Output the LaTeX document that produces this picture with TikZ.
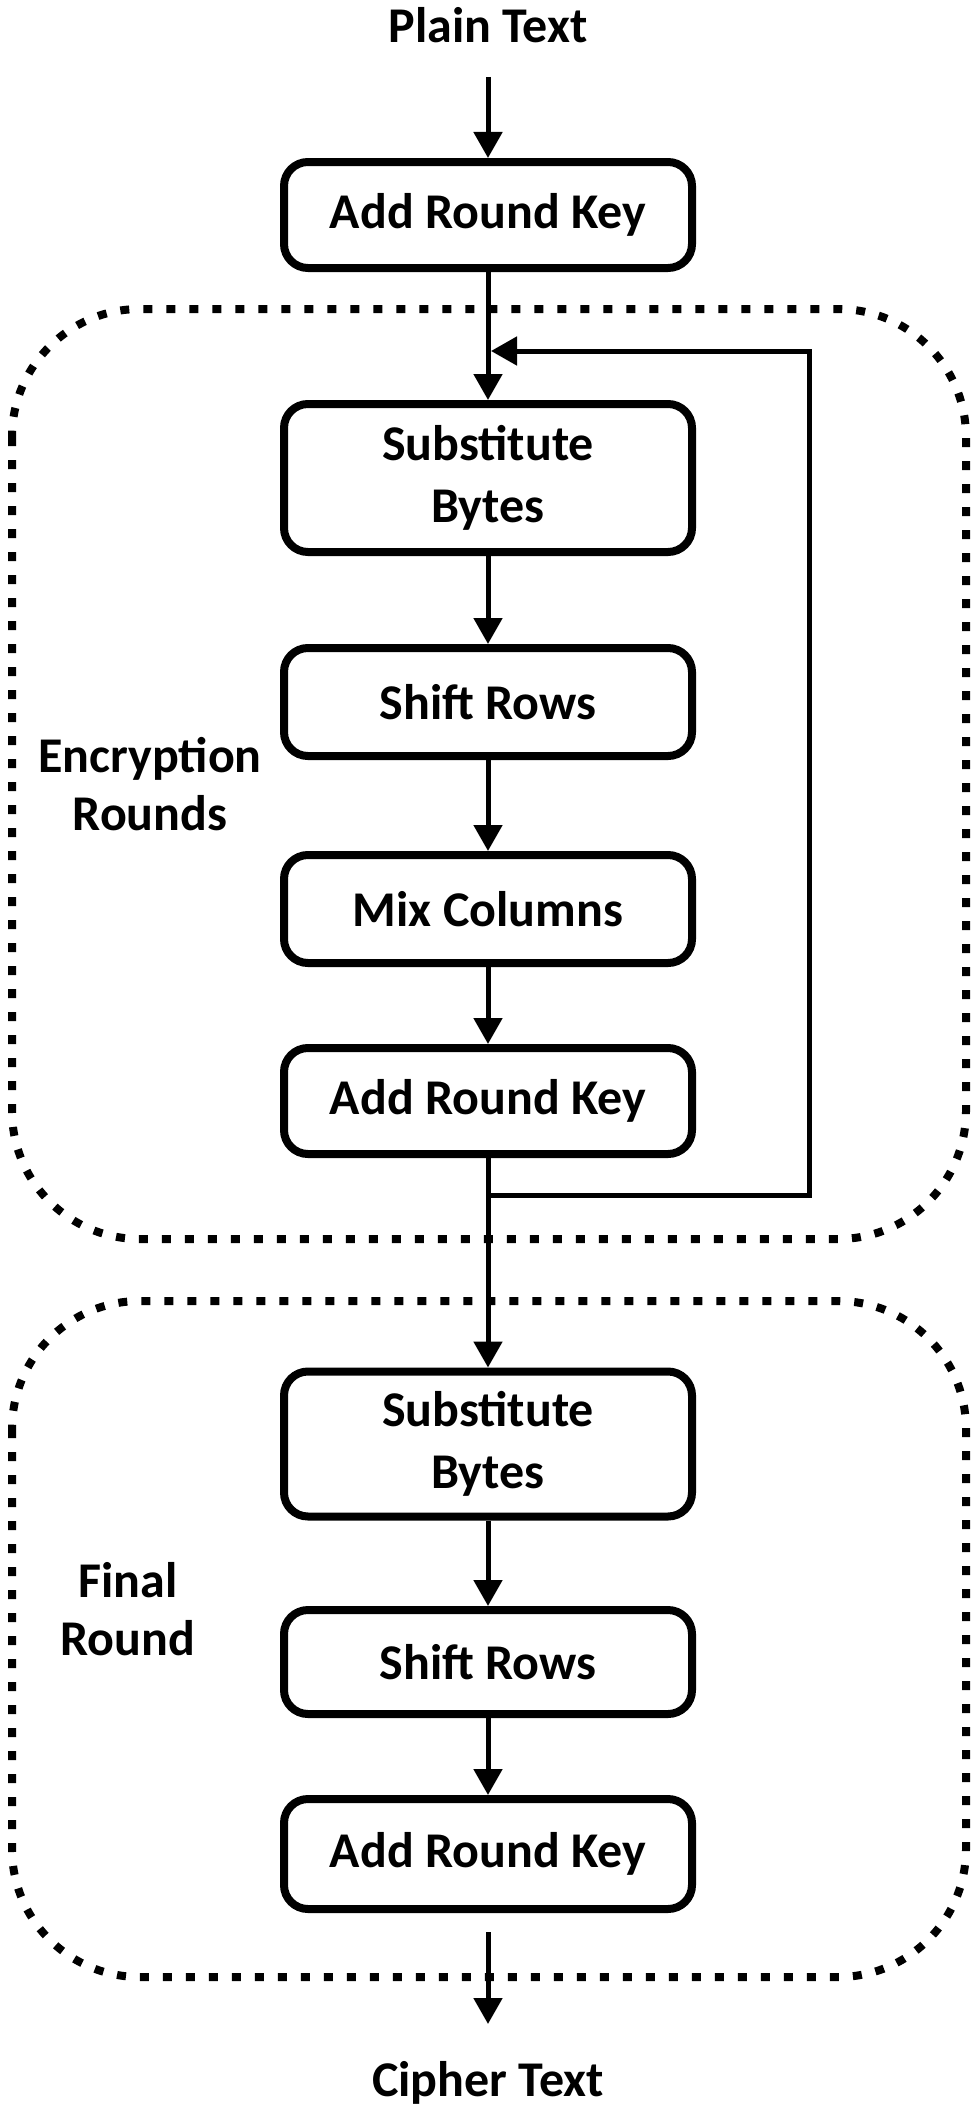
\documentclass[tikz,border=0pt]{standalone}
\usepackage{fontspec}
\setmainfont{Carlito}
\usetikzlibrary{arrows.meta}
\begin{document}
\begin{tikzpicture}[x=1pt,y=-1pt,
 box/.style={draw,line width=8pt,rounded corners=24pt,minimum width=408pt,inner sep=0pt,align=center,font=\fontsize{50}{62}\selectfont\bfseries},
 lbl/.style={align=center,font=\fontsize{50}{58}\selectfont\bfseries},
 arr/.style={line width=5pt,-{Triangle[length=26pt,width=28pt]}},
 reg/.style={line width=8pt,dash pattern=on 9pt off 14pt,rounded corners=128pt}]
\useasboundingbox (0,0) rectangle (974,2106);
\node[lbl] (pt) at (488,25) {Plain Text};
\node[box,minimum height=106pt] (b1) at (488,215) {Add Round Key};
\draw[reg] (12,309) rectangle (966,1239);
\draw[reg] (12,1301) rectangle (966,1977);
\node[box,minimum height=148pt] (b2) at (488,478) {Substitute\\Bytes};
\node[box,minimum height=108pt] (b3) at (488,702) {Shift Rows};
\node[box,minimum height=108pt] (b4) at (488,909) {Mix Columns};
\node[box,minimum height=106pt] (b5) at (488,1101) {Add Round Key};
\node[box,minimum height=145pt] (b6) at (488,1444) {Substitute\\Bytes};
\node[box,minimum height=104pt] (b7) at (488,1662) {Shift Rows};
\node[box,minimum height=110pt] (b8) at (488,1854) {Add Round Key};
\node[lbl] (er) at (150,784) {Encryption\\Rounds};
\node[lbl] (fr) at (128,1609) {Final\\Round};
\node[lbl] (ct) at (488,2083) {Cipher Text};
\coordinate (c0) at (488,77);
\coordinate (c1) at (488,1932);
\coordinate (c2) at (488,2024);
\coordinate (f0) at (488,1195);
\coordinate (fa) at (809,1195);
\coordinate (fb) at (809,351);
\coordinate (f1) at (491,351);
\draw[arr] (c0) -- (b1.north);
\draw[arr] (b1.south) -- (b2.north);
\draw[arr] (b2.south) -- (b3.north);
\draw[arr] (b3.south) -- (b4.north);
\draw[arr] (b4.south) -- (b5.north);
\draw[arr] (b5.south) -- (b6.north);
\draw[arr] (b6.south) -- (b7.north);
\draw[arr] (b7.south) -- (b8.north);
\draw[arr] (c1) -- (c2);
\draw[arr] (f0) -- (fa) -- (fb) -- (f1);
\end{tikzpicture}
\end{document}
